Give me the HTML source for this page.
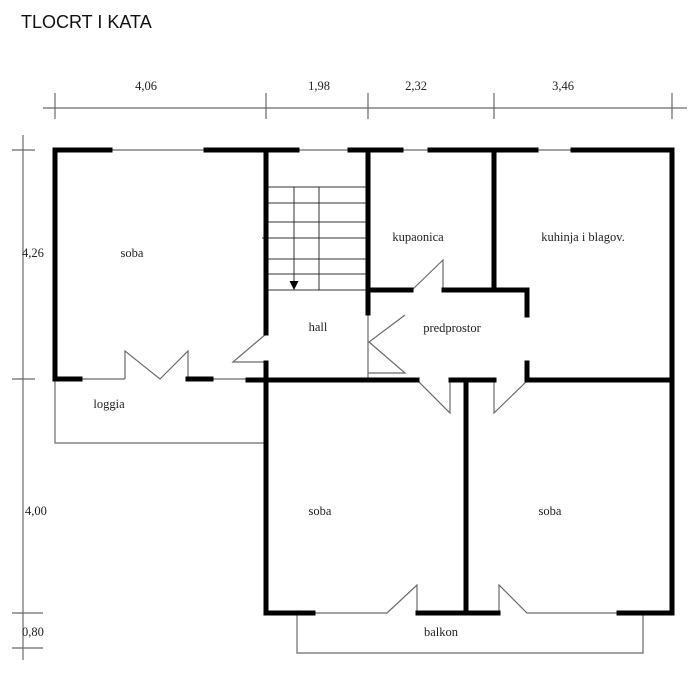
<!DOCTYPE html>
<html><head><meta charset="utf-8"><style>
html,body{margin:0;padding:0;background:#fff;}
svg{display:block;}
.t{font-family:"Liberation Serif",serif;font-size:12.5px;fill:#222;}
</style></head><body>
<svg width="699" height="690" viewBox="0 0 699 690" xmlns="http://www.w3.org/2000/svg">
<rect width="699" height="690" fill="#fff"/>
<text x="21" y="28" font-family="Liberation Sans, sans-serif" font-size="18" fill="#111">TLOCRT I KATA</text>

<!-- thin lines -->
<g stroke="#6a6a6a" stroke-width="1.2" fill="none">
  <path d="M43,108H687"/>
  <path d="M55,93V119M266,93V119M368,93V119M494,93V119M672,93V119"/>
  <path d="M23,135V660"/>
  <path d="M12,150H35M12,379H35M12,613H43M12,648H43"/>
  <path d="M110,150H206M297,150H350M401,150H430M536,150H573"/>
  <path d="M80,379H125M211,379H248"/>
  <path d="M125,379V351L160,379L188,351V379"/>
  <path d="M55,379V443H264"/>
  <path d="M266,334L233,362H266"/>
  <path d="M412,290L443,260V290"/>
  <path d="M368,313V378M405,315L369,342L405,373H368"/>
  <path d="M417,380L450,413V380M494,380V413L527,381"/>
  <path d="M313,613H387L417,585V613M499,613V585L527,613H618"/>
  <path d="M297,613V653H643V613"/>
</g>
<!-- stairs -->
<g stroke="#333" stroke-width="1" fill="none">
  <path d="M268,187H366M268,203H366M268,222H366M268,238H366M268,259H366M268,274H366M268,290H366"/>
  <path d="M319,187V290"/>
  <path d="M294,187V283"/>
  <path d="M262,238H266"/>
</g>
<polygon points="289.5,281 298.5,281 294,290" fill="#000"/>

<!-- thick walls -->
<g stroke="#000" stroke-width="5" fill="none" stroke-linecap="square" stroke-linejoin="miter">
  <path d="M55,150H110"/>
  <path d="M206,150H297"/>
  <path d="M350,150H401"/>
  <path d="M430,150H536"/>
  <path d="M573,150H672V613"/>
  <path d="M55,150V379H80"/>
  <path d="M188,379H211"/>
  <path d="M248,380H417"/>
  <path d="M266,150V333"/>
  <path d="M266,363V613H313"/>
  <path d="M368,150V313"/>
  <path d="M368,290H411"/>
  <path d="M444,290H527V315"/>
  <path d="M527,363V380H672"/>
  <path d="M494,150V290"/>
  <path d="M451,380H494"/>
  <path d="M466,380V613"/>
  <path d="M418,613H498"/>
  <path d="M619,613H672"/>
</g>

<!-- labels -->
<g class="t" text-anchor="middle">
  <text x="146" y="90">4,06</text>
  <text x="319" y="90">1,98</text>
  <text x="416" y="90">2,32</text>
  <text x="563" y="90">3,46</text>
  <text x="132" y="257">soba</text>
  <text x="418" y="241">kupaonica</text>
  <text x="583" y="241">kuhinja i blagov.</text>
  <text x="318" y="331">hall</text>
  <text x="452" y="332">predprostor</text>
  <text x="109" y="408">loggia</text>
  <text x="320" y="515">soba</text>
  <text x="550" y="515">soba</text>
  <text x="441" y="636">balkon</text>
</g>
<g class="t">
  <text x="22" y="257">4,26</text>
  <text x="25" y="515">4,00</text>
  <text x="22" y="636">0,80</text>
</g>
</svg>
</body></html>
